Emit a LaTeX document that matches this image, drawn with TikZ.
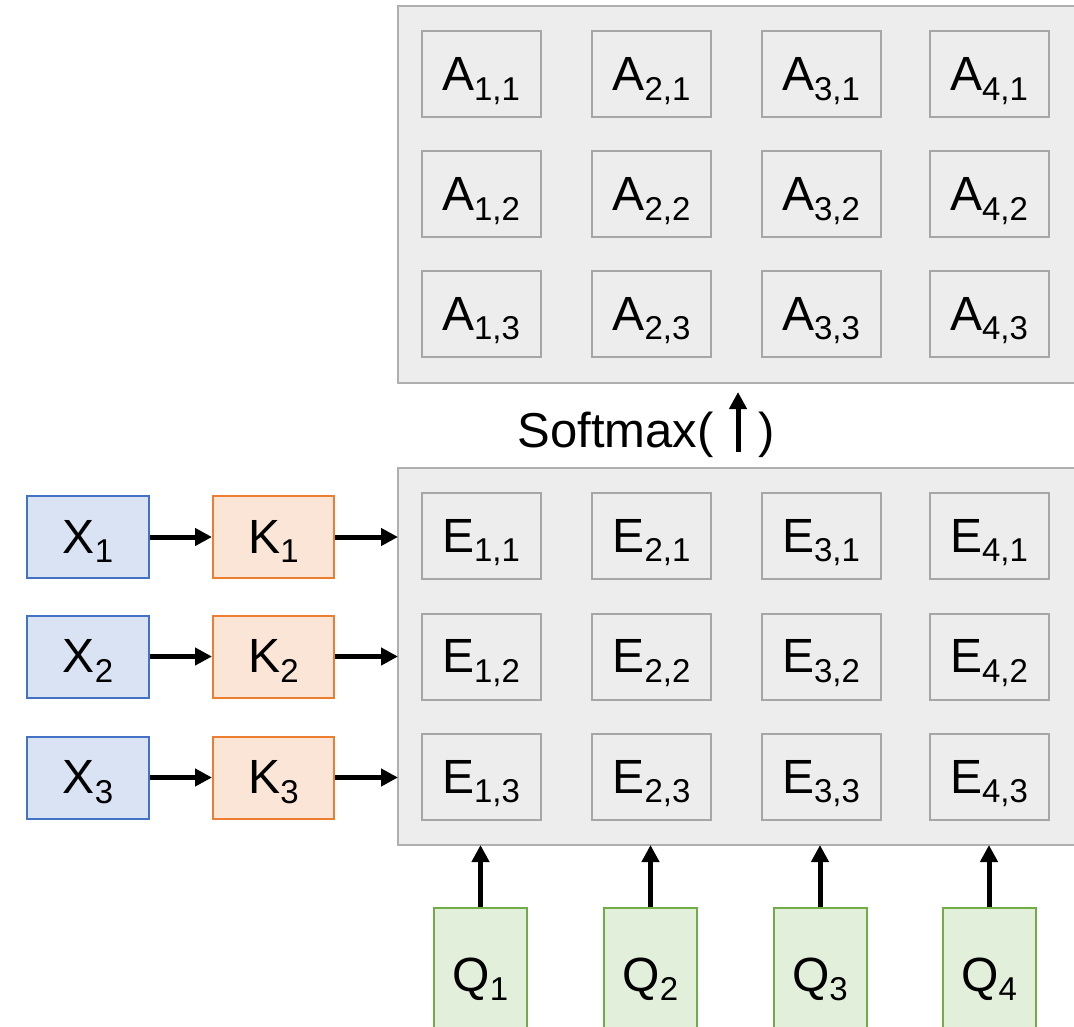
\documentclass[tikz,border=0pt]{standalone}
\usepackage{fontspec}
\setmainfont{Liberation Sans}
\usetikzlibrary{arrows.meta}
\definecolor{bigfill}{HTML}{EDEDED}
\definecolor{bigline}{HTML}{AFAFAF}
\definecolor{cellline}{HTML}{A6A6A6}
\definecolor{xfill}{HTML}{DAE3F3}
\definecolor{xline}{HTML}{4472C4}
\definecolor{kfill}{HTML}{FBE5D6}
\definecolor{kline}{HTML}{ED7D31}
\definecolor{qfill}{HTML}{E2EFDA}
\definecolor{qline}{HTML}{70AD47}
\newcommand\sbs[1]{\raisebox{-0.2em}{\fontsize{33}{33}\selectfont #1}}
\tikzset{
  big/.style={draw=bigline, fill=bigfill, line width=2pt},
  cell/.style={draw=cellline, fill=bigfill, line width=2pt, minimum width=119pt, minimum height=86pt, inner sep=0pt, text height=38pt, text depth=6pt, font=\fontsize{48}{54}\selectfont},
  xbox/.style={draw=xline, fill=xfill, line width=2pt, minimum width=122pt, minimum height=82pt, inner sep=0pt, text height=38pt, text depth=6pt, font=\fontsize{48}{54}\selectfont},
  kbox/.style={xbox, draw=kline, fill=kfill, minimum width=121pt},
  qbox/.style={draw=qline, fill=qfill, line width=2pt, minimum width=93pt, minimum height=134pt, inner sep=0pt, text height=38pt, text depth=6pt, font=\fontsize{48}{54}\selectfont},
  arr/.style={line width=5pt, -{Triangle[length=17pt,width=17pt]}},
  lbl/.style={font=\fontsize{49}{55}\selectfont, inner sep=0pt}
}
\begin{document}
\begin{tikzpicture}[x=1pt,y=-1pt]
\useasboundingbox (0,0) rectangle (1074,1027);
% big boxes
\draw[big] (398,6) rectangle (1076,383);
\draw[big] (398,468) rectangle (1076,845);
\coordinate (Ewest) at (398,656);
\coordinate (Esouth) at (700,845);
% A and E cells
\foreach \c/\x in {1/481,2/651.5,3/821,4/989}{
  \foreach \r/\y in {1/74.5,2/194.5,3/314}{
    \node[cell] (A\c\r) at (\x,\y) {A\sbs{\c,\r}};
  }
  \foreach \r/\y in {1/536,2/656.5,3/777}{
    \node[cell] (E\c\r) at (\x,\y) {E\sbs{\c,\r}};
  }
}
% X and K
\foreach \r/\y in {1/537,2/656.5,3/777.5}{
  \node[xbox] (X\r) at (88,\y) {X\sbs{\r}};
  \node[kbox] (K\r) at (273.5,\y) {K\sbs{\r}};
  \draw[arr] (X\r) -- (K\r);
  \draw[arr] (K\r.east) -- (K\r.east -| Ewest);
}
% Q
\foreach \c/\x in {1/480.5,2/650.5,3/820,4/989}{
  \node[qbox] (Q\c) at (\x,975) {Q\sbs{\c}};
  \draw[arr] (Q\c.north) -- (Q\c.north |- Esouth);
}
% Softmax
\node[lbl, anchor=base east] (smx) at (714,447) {Softmax(};
\node[lbl, anchor=base west] (smc) at (758,447) {)};
\coordinate (sma) at (738,452);
\coordinate (smb) at (738,392);
\draw[arr] (sma) -- (smb);
\end{tikzpicture}
\end{document}
